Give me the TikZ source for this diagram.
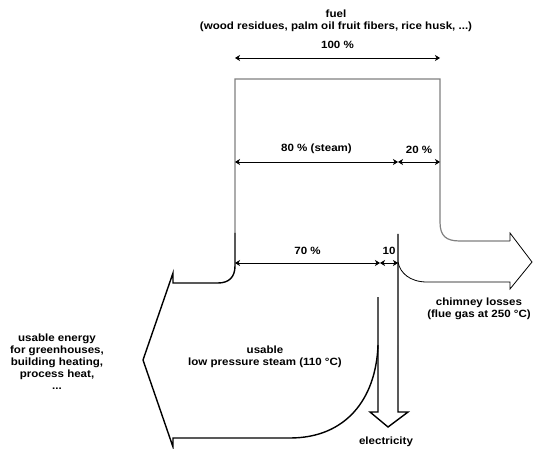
\documentclass[tikz,border=0pt]{standalone}
\usepackage{fontspec}
\setmainfont{Liberation Sans}[FakeStretch=1.1]
\usepackage{tikz}
\usetikzlibrary{arrows.meta}

\begin{document}
\begin{tikzpicture}[x=1pt, y=-1pt,
			>={Stealth[length=5pt,width=6pt,inset=1.5pt]},   %Pfeilspitzen
			mass/.style={line width=1.4pt, line join=miter},
			box/.style={gray, line width=1.2pt},
			flow/.style={line width=0.8pt},
			dim/.style={<->, line width=0.7pt},
			lbl/.style={align=center, inner sep=1pt},
			font=\bfseries\fontsize{10.5}{12}\selectfont]
			\useasboundingbox (0,0) rectangle (533,449);
			%Koordinaten der Masspfeile
			\coordinate (a1) at (235,58);  \coordinate (a2) at (440,58);
			\coordinate (b1) at (235,162); \coordinate (b2) at (398,162); \coordinate (b3) at (440,162);
			\coordinate (c1) at (235,263); \coordinate (c2) at (380,263); \coordinate (c3) at (398,263);
			%Kasten zeichnen
			\draw[box] (235,233) -- (235,79) -- (440,79) -- (440,222)
				.. controls (440,236) and (446,241) .. (460,241) -- (510,241);
			%Abgaspfeil
			\draw[flow] (510,241) -- (510,233) -- (532,262) -- (510,289) -- (510,282) -- (427,282)
				.. controls (410,282) and (400,273) .. (398,262);
			%Pfeil nach links (Dampf)
			\draw[mass] (235,233) -- (235,266) .. controls (235,277) and (229,283) .. (218,283)
				-- (173,283) -- (173,273) -- (143,360) -- (173,447) -- (173,438) -- (290,438)
				.. controls (345,438) and (376,400) .. (378,345);
			%Strompfeil
			\draw[mass] (378,297) -- (378,412) -- (370,412) -- (388,427) -- (408,412) -- (398,412) -- (398,234);
			%Masspfeile
			\draw[dim] (a1) -- (a2) node[midway, above=6pt] (p100) {100 \%};
			\draw[dim] (b1) -- (b2) node[midway, above=5pt] (p80) {80 \% (steam)};
			\draw[dim] (b2) -- (b3) node[midway, above=5pt] (p20) {20 \%};
			\draw[dim] (c1) -- (c2) node[midway, above=5pt] (p70) {70 \%};
			\draw[dim] (c2) -- (c3) node[midway, above=5pt] (p10) {10};
			%Beschriftung
			\node[lbl] (fuel) at (336,21) {fuel\\(wood residues, palm oil fruit fibers, rice husk, ...)};
			\node[lbl] (chimney) at (479,309) {chimney losses\\(flue gas at 250 °C)};
			\node[lbl] (steam) at (265,357) {usable\\low pressure steam (110 °C)};
			\node[lbl] (energy) at (57,362) {usable energy\\for greenhouses,\\building heating,\\process heat,\\...};
			\node[lbl] (elec) at (386,442) {electricity};
		\end{tikzpicture}
\end{document}
